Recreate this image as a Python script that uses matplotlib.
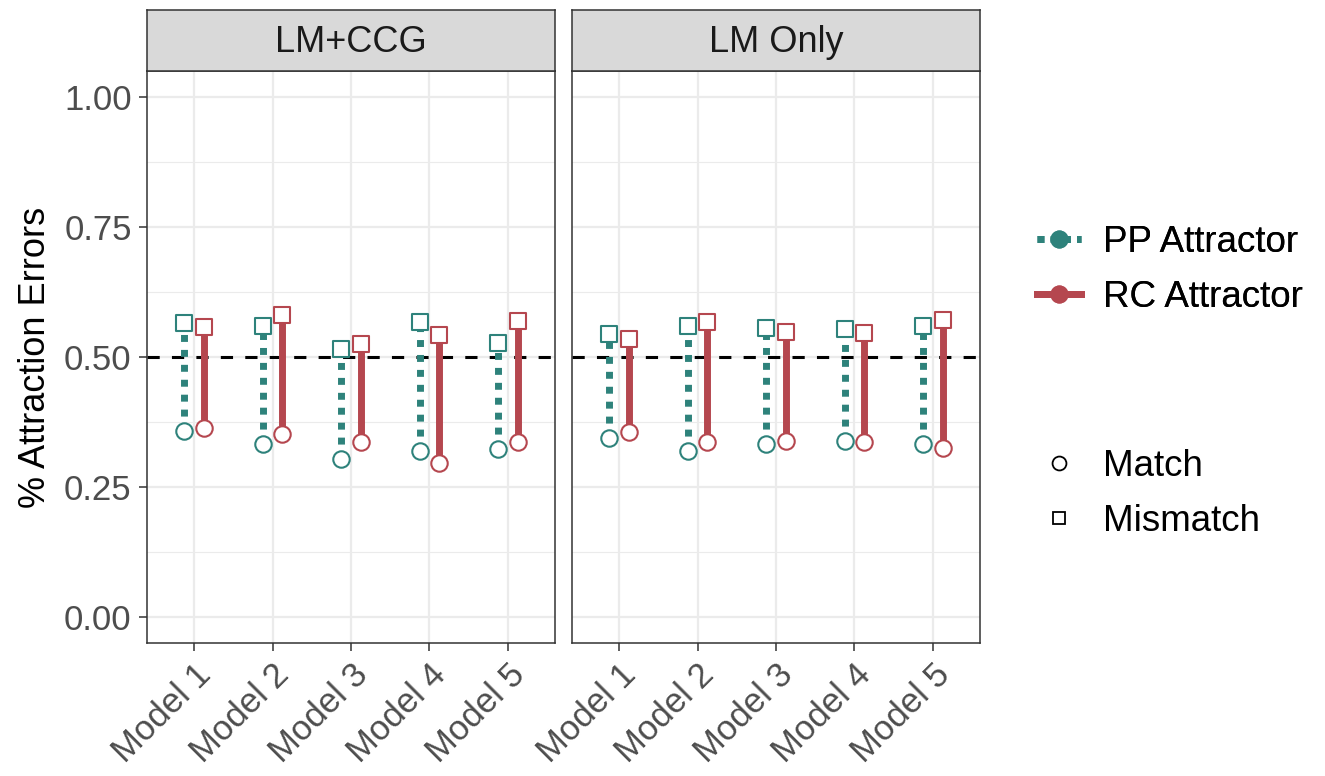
import numpy as np
import matplotlib.pyplot as plt
from matplotlib.lines import Line2D

plt.rcParams['font.family'] = ['Liberation Sans', 'DejaVu Sans']

models = ['Model 1', 'Model 2', 'Model 3', 'Model 4', 'Model 5']
panels = ['LM+CCG', 'LM Only']

# значения по панелям
pp_match = {'LM+CCG': [0.358, 0.333, 0.304, 0.319, 0.323],
            'LM Only': [0.344, 0.319, 0.333, 0.338, 0.333]}
pp_mismatch = {'LM+CCG': [0.565, 0.560, 0.515, 0.567, 0.527],
               'LM Only': [0.544, 0.560, 0.556, 0.554, 0.560]}
rc_match = {'LM+CCG': [0.363, 0.352, 0.337, 0.296, 0.337],
            'LM Only': [0.356, 0.337, 0.338, 0.337, 0.325]}
rc_mismatch = {'LM+CCG': [0.558, 0.581, 0.525, 0.542, 0.569],
               'LM Only': [0.535, 0.567, 0.548, 0.546, 0.571]}

teal = '#2E827B'
red = '#B5474F'

W, H = 1325, 776
fig = plt.figure(figsize=(W / 100, H / 100), dpi=100)


def px_axes(x0, y0, x1, y1):
    return fig.add_axes([x0 / W, 1 - y1 / H, (x1 - x0) / W, (y1 - y0) / H])


panel_x = [(147, 555), (572, 980)]
x = np.arange(1, len(models) + 1)
dodge = 0.125

for i, (name, (x0, x1)) in enumerate(zip(panels, panel_x)):
    ax = px_axes(x0, 71, x1, 643)
    ax.set_xlim(0.4, 5.6)
    ax.set_ylim(-0.05, 1.05)
    ax.set_yticks([0, 0.25, 0.5, 0.75, 1.0])
    ax.set_yticks([0.125, 0.375, 0.625, 0.875], minor=True)
    ax.grid(True, which='major', color='#EBEBEB', lw=1.6, zorder=0)
    ax.grid(True, which='minor', axis='y', color='#EBEBEB', lw=0.8, zorder=0)
    ax.set_axisbelow(True)
    for s in ax.spines.values():
        s.set_color('#333333')
        s.set_linewidth(1.1)
    ax.axhline(0.5, color='black', ls=(0, (4, 4)), lw=2.2, zorder=2)

    xp = x - dodge
    xr = x + dodge
    for j in range(len(models)):
        ax.plot([xp[j], xp[j]], [pp_match[name][j], pp_mismatch[name][j]],
                color=teal, lw=5.0, ls=(0, (1, 1.15)), zorder=3)
        ax.plot([xr[j], xr[j]], [rc_match[name][j], rc_mismatch[name][j]],
                color=red, lw=5.0, zorder=3)
    ax.scatter(xp, pp_match[name], s=140, marker='o', facecolor='white',
               edgecolor=teal, lw=1.5, zorder=4)
    ax.scatter(xp, pp_mismatch[name], s=130, marker='s', facecolor='white',
               edgecolor=teal, lw=1.5, zorder=4)
    ax.scatter(xr, rc_match[name], s=140, marker='o', facecolor='white',
               edgecolor=red, lw=1.5, zorder=4)
    ax.scatter(xr, rc_mismatch[name], s=130, marker='s', facecolor='white',
               edgecolor=red, lw=1.5, zorder=4)

    ax.set_xticks(x)
    ax.set_xticklabels(models, rotation=45, ha='right', va='top',
                       rotation_mode='anchor', fontsize=25, color='#4D4D4D')
    ax.tick_params(axis='both', which='major', length=6, width=1.1,
                   color='#333333', labelsize=25, labelcolor='#4D4D4D', pad=5)
    ax.tick_params(axis='y', which='minor', length=0)
    if i == 0:
        ax.set_yticklabels(['0.00', '0.25', '0.50', '0.75', '1.00'])
        ax.set_ylabel('% Attraction Errors', fontsize=26, color='black', labelpad=8)
    else:
        ax.tick_params(axis='y', which='major', length=0, labelleft=False)

    # полоса с названием панели
    sax = px_axes(x0, 10, x1, 71)
    sax.set_facecolor('#D9D9D9')
    sax.set_xticks([])
    sax.set_yticks([])
    for s in sax.spines.values():
        s.set_color('#333333')
        s.set_linewidth(1.1)
    sax.text(0.5, 0.47, name, ha='center', va='center', fontsize=26,
             color='#1A1A1A', transform=sax.transAxes)

# легенда: цвет
h1 = [Line2D([], [], color=teal, lw=5.0, ls=(0, (1, 0.9)), marker='o',
             markersize=12, markerfacecolor=teal, markeredgecolor=teal),
      Line2D([], [], color=red, lw=5.0, marker='o', markersize=12,
             markerfacecolor=red, markeredgecolor=red)]
leg1 = fig.legend(h1, ['PP Attractor', 'RC Attractor'], loc='center left',
                  bbox_to_anchor=(1004 / W, 1 - 270 / H), frameon=False,
                  fontsize=26.5, handlelength=1.2, handletextpad=0.6,
                  labelspacing=0.55, borderpad=0.4)
fig.add_artist(leg1)

# легенда: форма
h2 = [Line2D([], [], ls='none', marker='o', markersize=10, markerfacecolor='white',
             markeredgecolor='black', markeredgewidth=1.3),
      Line2D([], [], ls='none', marker='s', markersize=9, markerfacecolor='white',
             markeredgecolor='black', markeredgewidth=1.3)]
fig.legend(h2, ['Match', 'Mismatch'], loc='center left',
           bbox_to_anchor=(1004 / W, 1 - 494 / H), frameon=False,
           fontsize=26.5, handlelength=1.2, handletextpad=0.6,
           labelspacing=0.55, borderpad=0.4)

fig.savefig('out.png', dpi=100)
plt.close()
